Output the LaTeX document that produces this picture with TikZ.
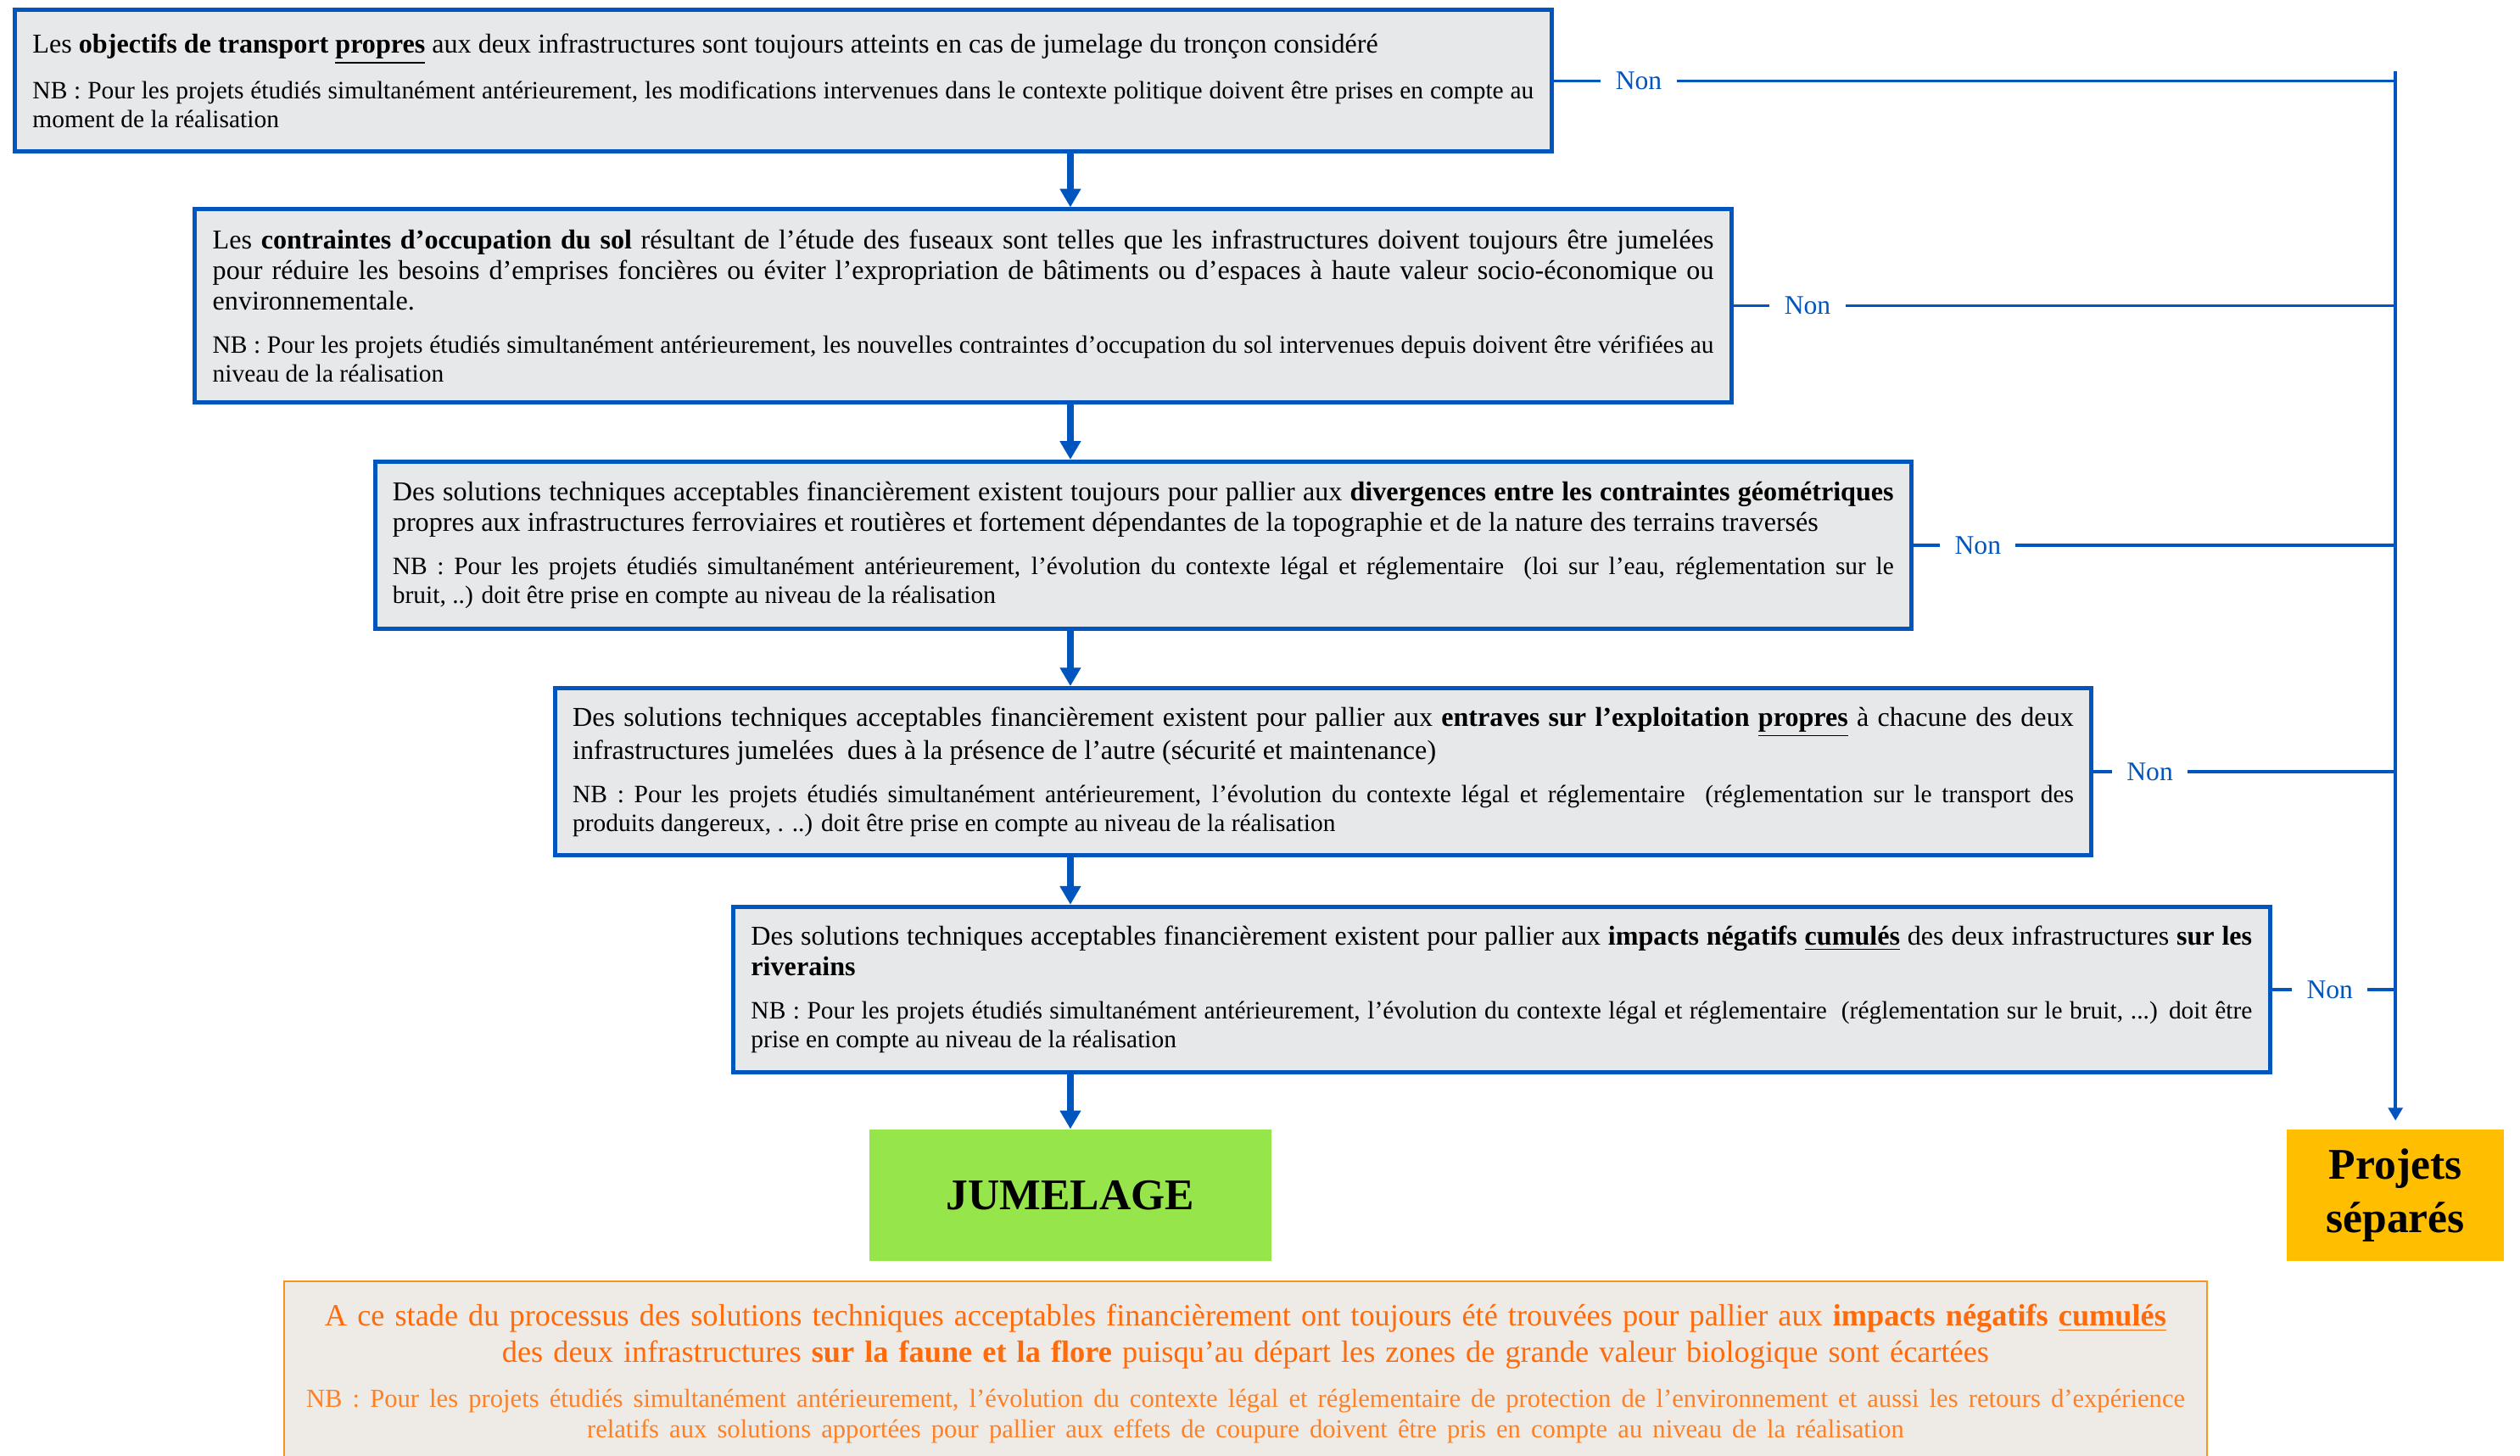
\documentclass[tikz,border=0pt]{standalone}
\usepackage{fontspec}
\setmainfont{Liberation Serif}
\usepackage{xcolor}
\usepackage{tikz}
\usetikzlibrary{arrows.meta,positioning,calc}
\definecolor{flowblue}{HTML}{0055BE}
\definecolor{boxgrey}{HTML}{E7E8EA}
\definecolor{jumgreen}{HTML}{96E64B}
\definecolor{sepyellow}{HTML}{FFBF00}
\definecolor{noteorange}{HTML}{FF6A0A}
\definecolor{nborange}{HTML}{FF8024}
\definecolor{noteline}{HTML}{F7941D}
\definecolor{notefill}{HTML}{EEEBE7}
\newcommand{\nbsize}{\fontsize{8.85}{10.2}\selectfont}
\hyphenpenalty=10000
\exhyphenpenalty=10000

\begin{document}
\begin{tikzpicture}[
  crit/.style={rectangle,draw=flowblue,fill=boxgrey,line width=1.5pt,anchor=north west,text width=18.68cm,inner xsep=0.22cm,align=justify,font=\fontsize{9.65}{10.8}\selectfont},
  outcome/.style={rectangle,minimum height=1.64cm,align=center,font=\fontsize{15.5}{18.8}\selectfont\bfseries},
  non/.style={font=\fontsize{9.5}{11}\selectfont,text=flowblue,inner sep=5pt},
  flow/.style={-{Triangle[length=0.23cm,width=0.25cm]},line width=2.4pt,draw=flowblue},
  link/.style={line width=1.1pt,draw=flowblue},
  bus/.style={-{Triangle[length=4.5pt,width=5pt]},line width=1.1pt,draw=flowblue,shorten >=3pt}
]
\useasboundingbox (0,0) rectangle (31.36,-18.12);

% Criteria
\node[crit,minimum height=1.76cm] (c1) at (0.16,-0.10) {Les \textbf{objectifs de transport \underline{propres}} aux deux infrastructures sont toujours atteints en cas de jumelage du tronçon considéré\par\vspace{5pt}
{\nbsize NB : Pour les projets étudiés simultanément antérieurement, les modifications intervenues dans le contexte politique doivent être prises en compte au moment de la réalisation\par}};
\node[crit,minimum height=2.40cm] (c2) at (2.40,-2.58) {Les \textbf{contraintes d’occupation du sol} résultant de l’étude des fuseaux sont telles que les infrastructures doivent toujours être jumelées pour réduire les besoins d’emprises foncières ou éviter l’expropriation de bâtiments ou d’espaces à haute valeur socio-économique ou environnementale.\par\vspace{5pt}
{\nbsize NB : Pour les projets étudiés simultanément antérieurement, les nouvelles contraintes d’occupation du sol intervenues depuis doivent être vérifiées au niveau de la réalisation\par}};
\node[crit,minimum height=2.08cm] (c3) at (4.64,-5.72) {Des solutions techniques acceptables financièrement existent toujours pour pallier aux \textbf{divergences entre les contraintes géométriques} propres aux infrastructures ferroviaires et routières et fortement dépendantes de la topographie et de la nature des terrains traversés\par\vspace{5pt}
{\nbsize NB : Pour les projets étudiés simultanément antérieurement, l’évolution du contexte légal et réglementaire \ (loi sur l’eau, réglementation sur le\linebreak bruit, ..) doit être prise en compte au niveau de la réalisation\par}};
\node[crit,minimum height=2.08cm] (c4) at (6.88,-8.54) {Des solutions techniques acceptables financièrement existent pour pallier aux \textbf{entraves sur l’exploitation \underline{propres}} à chacune des deux infrastructures jumelées \ dues à la présence de l’autre (sécurité et maintenance)\par\vspace{5pt}
{\nbsize NB : Pour les projets étudiés simultanément antérieurement, l’évolution du contexte légal et réglementaire \ (réglementation sur le transport des\linebreak produits dangereux, . ..) doit être prise en compte au niveau de la réalisation\par}};
\node[crit,minimum height=2.06cm] (c5) at (9.10,-11.26) {Des solutions techniques acceptables financièrement existent pour pallier aux \textbf{impacts négatifs \underline{cumulés}} des deux infrastructures \textbf{sur les riverains}\par\vspace{5pt}
{\nbsize NB : Pour les projets étudiés simultanément antérieurement, l’évolution du contexte légal et réglementaire \ (réglementation sur le bruit, ...) doit être prise en compte au niveau de la réalisation\par}};

% Outcomes
\node[outcome,fill=jumgreen,minimum width=5.0cm] (jum) at (13.32,-14.88) {JUMELAGE};
\node[outcome,fill=sepyellow,minimum width=2.70cm] (sep) at (29.81,-14.88) {Projets\\séparés};

% Note
\node[rectangle,draw=noteline,fill=notefill,line width=0.6pt,anchor=north,minimum width=23.92cm,minimum height=2.3cm,text width=23.5cm,align=center,text=noteorange,font=\fontsize{10.9}{13}\selectfont] (note) at (15.50,-15.94) {A ce stade du processus des solutions techniques acceptables financièrement ont toujours été trouvées pour pallier aux \textbf{impacts négatifs \underline{cumulés}}\\
des deux infrastructures \textbf{sur la faune et la flore} puisqu’au départ les zones de grande valeur biologique sont écartées\par\vspace{5pt}
{\color{nborange}\fontsize{9.2}{10.8}\selectfont NB : Pour les projets étudiés simultanément antérieurement, l’évolution du contexte légal et réglementaire de protection de l’environnement et aussi les retours d’expérience\\
relatifs aux solutions apportées pour pallier aux effets de coupure doivent être pris en compte au niveau de la réalisation\par}};

% Oui path
\coordinate (axis) at (13.32,0);
\draw[flow] (c1.south -| axis) -- (c2.north -| axis);
\draw[flow] (c2.south -| axis) -- (c3.north -| axis);
\draw[flow] (c3.south -| axis) -- (c4.north -| axis);
\draw[flow] (c4.south -| axis) -- (c5.north -| axis);
\draw[flow] (c5.south -| axis) -- (jum.north);

% Non path
\node[non,right=0.59cm of c1] (non1) {Non};
\node[non,right=0.45cm of c2] (non2) {Non};
\node[non,right=0.33cm of c3] (non3) {Non};
\node[non,right=0.23cm of c4] (non4) {Non};
\node[non,right=0.25cm of c5] (non5) {Non};
\coordinate (bustop) at ($(sep.north |- c1.east)+(0,0.12)$);
\foreach \i in {1,...,5}{
  \draw[link] (c\i) -- (non\i);
  \draw[link] (non\i) -- (non\i -| bustop);
}
\draw[bus] (bustop) -- (sep.north);

\end{tikzpicture}
\end{document}
